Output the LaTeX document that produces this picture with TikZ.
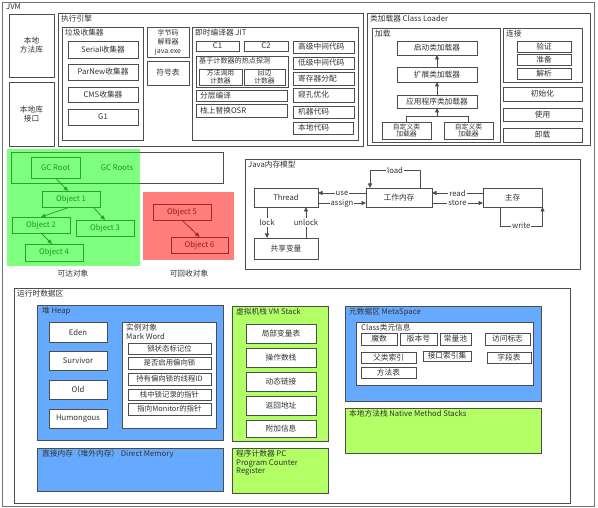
\documentclass[tikz,border=0pt]{standalone}
\usepackage{fontspec}
\setmainfont{Noto Sans CJK SC}
\usetikzlibrary{arrows.meta}
\definecolor{heapblue}{HTML}{66AAFF}
\definecolor{stackgreen}{HTML}{B3FF66}
\definecolor{edgec}{HTML}{4D4D4D}
\definecolor{txt}{HTML}{333333}
\newcommand\dfs{\fontsize{7.7}{9}\selectfont}
\newcommand\sfs{\fontsize{6.8}{7.3}\selectfont}
\newcommand\BX[7][]{\node[bx,#1,minimum width={(#5-#3)*1pt},minimum height={(#6-#4)*1pt}] (#2) at (#3,#4) {#7};}
\tikzset{
  bx/.style={draw=edgec,line width=0.8pt,fill=white,anchor=north west,inner sep=0pt,outer sep=0pt,text=txt,font=\dfs,align=center},
  lbl/.style={anchor=north west,inner sep=1pt,text=txt,font=\dfs,align=left},
  arr/.style={draw=edgec,line width=0.8pt,-{Triangle[length=4.5pt,width=4pt]}},
  lab/.style={fill=white,inner sep=1pt,font=\dfs,text=txt},
}
\begin{document}
\begin{tikzpicture}[x=1pt,y=-1pt]
\useasboundingbox (0,0) rectangle (598,508);
% JVM frame
\BX[draw=black!55]{jvm}{2}{2}{594}{506}{}
\node[lbl] (jvml) at (5,3) {JVM};
\BX{nml}{9}{14}{54}{77}{本地\\方法库}
\BX{nli}{9}{82}{54}{146}{本地库\\接口}
% execution engine
\BX{exe}{58}{13}{363}{146}{}
\node[lbl] (exel) at (60,14) {执行引擎};
\BX{gcc}{62}{27}{143}{140}{}
\node[lbl] (gccl) at (64,28) {垃圾收集器};
\BX{ser}{68}{41}{138}{58}{Serial收集器}
\BX{parn}{68}{64}{138}{80}{ParNew收集器}
\BX{cms}{68}{87}{138}{102}{CMS收集器}
\BX{gone}{68}{109}{138}{125}{G1}
\BX[font=\fontsize{7}{9}\selectfont]{interp}{147}{27}{189}{57}{字节码\\解释器\\java.exe}
\BX{sym}{147}{61}{189}{85}{符号表}
\BX{jit}{192}{27}{358}{140}{}
\node[lbl] (jitl) at (194,28) {即时编译器 JIT};
\BX{cone}{196}{41}{239}{51}{C1}
\BX{ctwo}{244}{41}{288}{51}{C2}
\BX{hot}{196}{56}{288}{87}{}
\node[lbl,font=\fontsize{7.1}{8}\selectfont] (hotl) at (198,56.5) {基于计数器的热点探测};
\BX[font=\sfs]{mcnt}{199}{69}{242}{85}{方法调用\\计数器}
\BX[font=\sfs]{bcnt}{244}{69}{285}{85}{回边\\计数器}
\BX{tier}{196}{90}{287}{101}{}
\node[lbl,anchor=west] (tierl) at ([xshift=3pt]tier.west) {分层编译};
\BX{osr}{196}{104}{287}{117}{}
\node[lbl,anchor=west] (osrl) at ([xshift=3pt]osr.west) {栈上替换OSR};
\BX{hl}{293}{41}{354}{53}{}
\node[lbl,anchor=west] (hll) at ([xshift=4pt]hl.west) {高级中间代码};
\BX{ll}{293}{57}{354}{69}{}
\node[lbl,anchor=west] (lll) at ([xshift=4pt]ll.west) {低级中间代码};
\BX{reg}{293}{72}{354}{85}{}
\node[lbl,anchor=west] (regl) at ([xshift=4pt]reg.west) {寄存器分配};
\BX{peep}{293}{88}{354}{102}{}
\node[lbl,anchor=west] (peepl) at ([xshift=4pt]peep.west) {窥孔优化};
\BX{mach}{293}{106}{354}{118}{}
\node[lbl,anchor=west] (machl) at ([xshift=4pt]mach.west) {机器代码};
\BX{natc}{293}{122}{353}{134}{}
\node[lbl,anchor=west] (natcl) at ([xshift=4pt]natc.west) {本地代码};
% class loader
\BX{cl}{367}{13}{590}{145}{}
\node[lbl] (cll) at (369,14) {类加载器 Class Loader};
\BX{load}{372}{28}{500}{142}{}
\node[lbl] (loadl) at (374,29) {加载};
\BX{boot}{397}{41}{477}{55}{启动类加载器}
\BX{ext}{397}{67}{477}{82}{扩展类加载器}
\BX{app}{397}{95}{477}{108}{应用程序类加载器}
\BX[font=\sfs]{cuone}{382}{122}{431}{139}{自定义类\\加载器}
\BX[font=\sfs]{cutwo}{444}{122}{493}{139}{自定义类\\加载器}
\draw[arr] (ext.north) -- (boot.south);
\draw[arr] (app.north) -- (ext.south);
\draw[draw=edgec,line width=0.8pt] (cuone.north) -- ++(0,-6) coordinate (brk) -| (cutwo.north);
\draw[arr] (brk -| app.south) -- (app.south);
\BX{link}{503}{28}{582}{82}{}
\node[lbl] (linkl) at (505,29) {连接};
\BX{ver}{517}{41}{571}{52}{验证}
\BX{prep}{517}{54}{571}{65}{准备}
\BX{res}{517}{68}{571}{79}{解析}
\BX{init}{503}{87}{582}{101}{初始化}
\BX{usebx}{503}{108}{582}{121}{使用}
\BX{unl}{503}{128}{582}{142}{卸载}
% GC reachability
\BX{gcrs}{11}{152}{223}{183}{}
\node[font=\dfs,text=txt] (gcrsl) at (117,167.5) {GC Roots};
\BX{gcr}{31}{157}{80}{178}{GC Root}
\BX{oone}{42}{191}{100}{207}{Object 1}
\BX{otwo}{12}{217}{70}{233}{Object 2}
\BX{othree}{76}{220}{134}{236}{Object 3}
\BX{ofour}{25}{244}{83}{261}{Object 4}
\draw[arr] (gcr.south) -- ([xshift=-3pt]oone.north);
\draw[arr] ([xshift=-1pt]oone.south) -- (otwo.north);
\draw[arr] ([xshift=22pt]oone.south) -- (othree.north);
\draw[arr] (otwo.south) -- ([xshift=-2pt]ofour.north);
\BX[draw=none,fill=green,fill opacity=0.5]{reach}{7}{149}{140}{266}{}
\BX{ofive}{153}{204}{211}{220}{Object 5}
\BX{osix}{171}{237}{228}{253}{Object 6}
\draw[arr] (ofive.south) -- (osix.north);
\BX[draw=none,fill=red,fill opacity=0.5]{recl}{143}{192}{234}{260}{}
\node[font=\dfs,text=txt] (reachl) at (73,274) {可达对象};
\node[font=\dfs,text=txt] (recll) at (189,274) {可回收对象};
% Java memory model
\BX{jmm}{245}{159}{580}{269}{}
\node[lbl] (jmml) at (247,160) {Java内存模型};
\BX{th}{254}{188}{318}{207}{Thread}
\BX{wm}{366}{188}{432}{207}{工作内存}
\BX{ms}{483}{188}{542}{207}{主存}
\BX{sv}{254}{238}{318}{259}{共享变量}
\draw[arr] ([yshift=4.5pt]wm.west) -- node[lab]{use} ([yshift=4.5pt]th.east);
\draw[arr] ([yshift=-5.5pt]th.east) -- node[lab]{assign} ([yshift=-5.5pt]wm.west);
\draw[arr] ([yshift=4.5pt]ms.west) -- node[lab]{read} ([yshift=4.5pt]wm.east);
\draw[arr] ([yshift=-5.5pt]wm.east) -- node[lab]{store} ([yshift=-5.5pt]ms.west);
\draw[arr] ([xshift=21pt]wm.north) -- ++(0,-18) -| node[lab,pos=0.25]{load} ([xshift=-29pt]wm.north);
\draw[arr] ([xshift=-12.5pt]ms.south) -- ++(0,19) -| node[lab,pos=0.25]{write} ([xshift=0.5pt]ms.south east);
\draw[arr] ([xshift=-19pt]th.south) -- node[lab]{lock} ([xshift=-19pt]sv.north);
\draw[arr] ([xshift=20pt]sv.north) -- node[lab]{unlock} ([xshift=20pt]th.south);
% runtime data area
\BX{rt}{14}{288}{570}{503}{}
\node[lbl] (rtl) at (16,289) {运行时数据区};
\BX[fill=heapblue]{heap}{37}{305}{223}{440}{}
\node[lbl] (heapl) at (41,306) {堆 Heap};
\BX{eden}{49}{322}{107}{342}{Eden}
\BX{surv}{49}{351}{107}{370}{Survivor}
\BX{old}{49}{380}{107}{399}{Old}
\BX{hum}{49}{409}{107}{428}{Humongous}
\BX{inst}{122}{322}{216}{428}{}
\node[lbl,font=\fontsize{7.7}{8.5}\selectfont] (instl) at (125,323) {实例对象\\Mark Word};
\BX[font=\fontsize{7.4}{8}\selectfont]{mone}{128}{343}{211}{354}{锁状态标记位}
\BX[font=\fontsize{7.4}{8}\selectfont]{mtwo}{128}{357}{211}{369}{是否启用偏向锁}
\BX[font=\fontsize{7.4}{8}\selectfont]{mthree}{128}{373}{211}{385}{持有偏向锁的线程ID}
\BX[font=\fontsize{7.4}{8}\selectfont]{mfour}{128}{389}{211}{400}{栈中锁记录的指针}
\BX[font=\fontsize{7.4}{8}\selectfont]{mfive}{128}{403}{211}{415}{指向Monitor的指针}
\BX[fill=heapblue]{direct}{37}{448}{223}{491}{}
\node[lbl] (directl) at (41,449) {直接内存（堆外内存） Direct Memory};
\BX[fill=stackgreen]{vms}{232}{306}{328}{441}{}
\node[lbl] (vmsl) at (235,307) {虚拟机栈 VM Stack};
\BX{sone}{246}{324}{316}{343}{局部变量表}
\BX{stwo}{246}{348}{316}{367}{操作数栈}
\BX{sthree}{246}{372}{316}{391}{动态链接}
\BX{sfour}{246}{396}{316}{415}{返回地址}
\BX{sfive}{246}{420}{316}{437}{附加信息}
\BX[fill=stackgreen]{pc}{232}{448}{328}{493}{}
\node[lbl,font=\fontsize{7.7}{8.3}\selectfont] (pcl) at (235,449) {程序计数器 PC\\Program Counter\\Register};
\BX[fill=heapblue]{meta}{345}{306}{541}{401}{}
\node[lbl] (metal) at (348,307) {元数据区 MetaSpace};
\BX{cls}{356}{322}{533}{385}{}
\node[lbl] (clsl) at (360,323) {Class类元信息};
\BX{magic}{361}{333}{397}{345}{魔数}
\BX{ver2}{400}{333}{437}{345}{版本号}
\BX{pool}{440}{333}{471}{345}{常量池}
\BX{acc}{485}{333}{530}{345}{访问标志}
\BX{sup2}{361}{352}{416}{363}{父类索引}
\BX{intf}{423}{351}{471}{361}{接口索引集}
\BX{fld}{487}{352}{531}{363}{字段表}
\BX{mtd}{361}{367}{416}{378}{方法表}
\BX[fill=stackgreen]{nms}{345}{408}{541}{453}{}
\node[lbl] (nmsl) at (348,409) {本地方法栈 Native Method Stacks};
\end{tikzpicture}
\end{document}
